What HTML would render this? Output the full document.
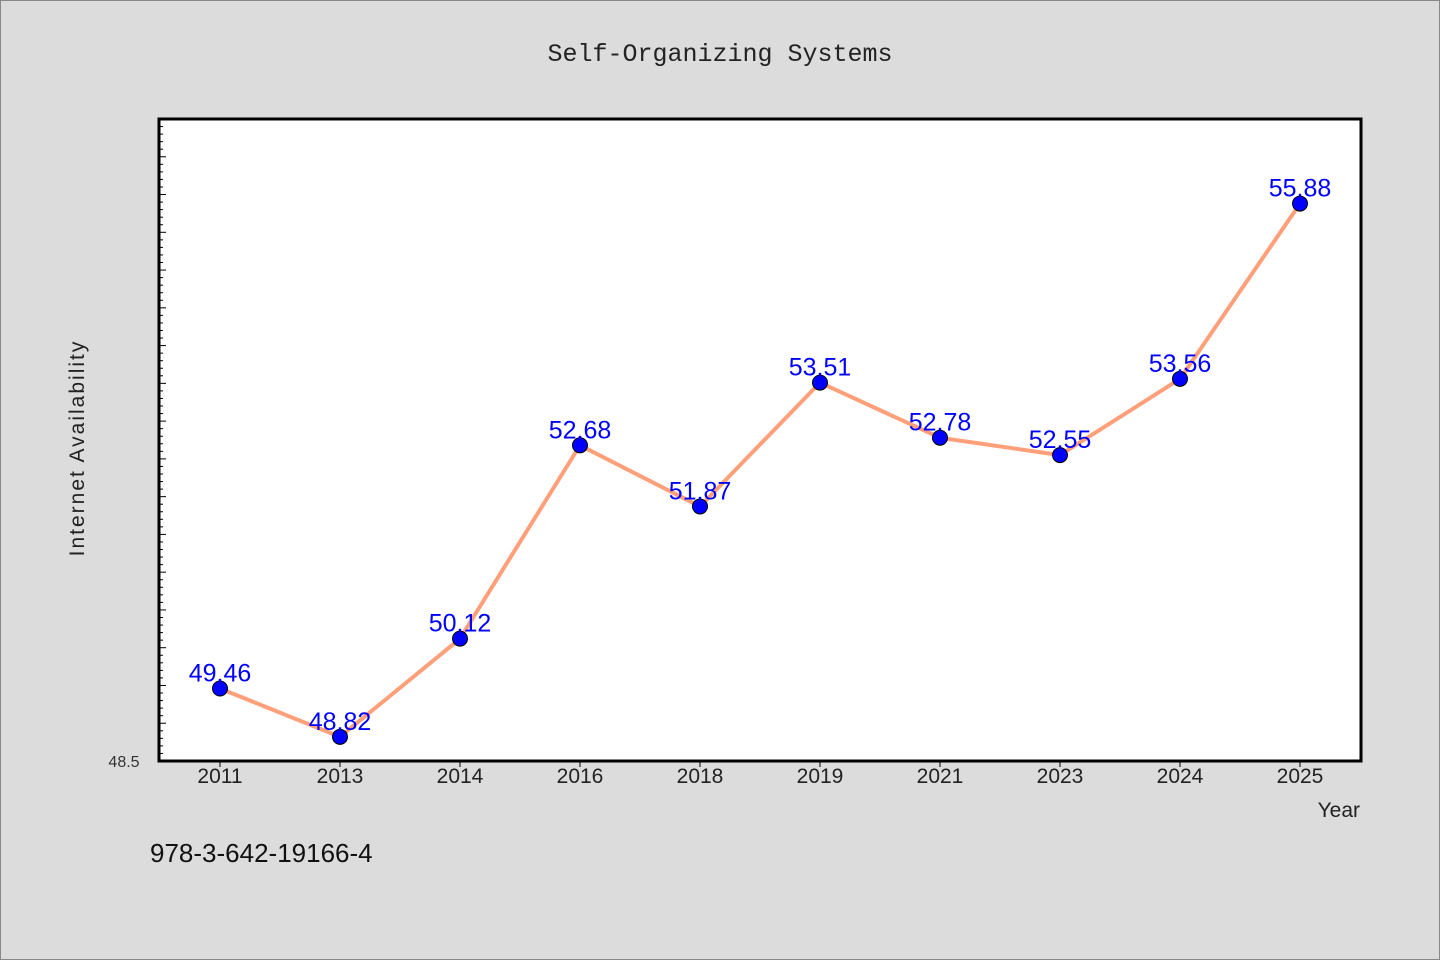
<!DOCTYPE html>
<html><head><meta charset="utf-8"><style>
body{margin:0;background:#dcdcdc;}
svg{display:block;font-family:"WenQuanYi Zen Hei","Liberation Sans",sans-serif;}
</style></head><body>
<svg id="chart" width="1440" height="960">
<rect x="0.5" y="0.5" width="1439" height="959" fill="#dcdcdc" stroke="#888"/>
<text x="720" y="61" text-anchor="middle" font-size="25" fill="#222" font-family="'Liberation Mono','WenQuanYi Zen Hei',monospace">Self-Organizing Systems</text>
<rect x="159" y="119" width="1202" height="642" fill="#fff"/>
<g id="ticks"></g>
<g id="series"></g>
<rect x="159" y="119" width="1202" height="642" fill="none" stroke="#000" stroke-width="3"/>
<text x="124" y="767" text-anchor="middle" font-size="16" fill="#333">48.5</text>
<text transform="translate(84,448) rotate(-90)" text-anchor="middle" font-size="21" fill="#222" letter-spacing="2">Internet Availability</text>
<text x="1360" y="817" text-anchor="end" font-size="21" fill="#222">Year</text>
<text x="150" y="862" font-size="26" fill="#111">978-3-642-19166-4</text>
</svg>
<script>
const categories=["2011","2013","2014","2016","2018","2019","2021","2023","2024","2025"];
const values=[49.46,48.82,50.12,52.68,51.87,53.51,52.78,52.55,53.56,55.88];
const yMin=48.5, yMax=57.0;
const NS="http://www.w3.org/2000/svg";
const x0=159,x1=1361,yTop=119,yBot=761;
function xs(i){return 220+i*120;}
function ys(v){return yBot-(v-yMin)/(yMax-yMin)*(yBot-yTop);}
function mk(t,a,p){const e=document.createElementNS(NS,t);for(const k in a)e.setAttribute(k,a[k]);p.appendChild(e);return e;}
const tg=document.getElementById('ticks'), sg=document.getElementById('series');
for(let k=1;k*0.1<=yMax-yMin+1e-9;k++){
  const v=yMin+k*0.1;const y=ys(v);if(y<yTop+2)break;
  const major=k%5===0;
  const l=mk('line',{x1:x0,x2:x0+(major?7:4),y1:y,y2:y,stroke:'#000','stroke-width':1},tg);
  
  
}
categories.forEach((c,i)=>{
  const l=mk('line',{x1:xs(i),x2:xs(i),y1:yBot,y2:yBot+6,stroke:'#000','stroke-width':1},tg);
  
  
  const t=mk('text',{x:xs(i),y:783,'text-anchor':'middle','font-size':21,fill:'#222'},tg);
  t.textContent=c;
  
  
});
const pl=mk('polyline',{points:values.map((v,i)=>xs(i)+','+ys(v)).join(' '),fill:'none',stroke:'#ffa07a','stroke-width':4,'stroke-linejoin':'round'},sg);


values.forEach((v,i)=>{
  const c=mk('circle',{cx:xs(i),cy:ys(v),r:7.5,fill:'#0000ff',stroke:'#000','stroke-width':1},sg);
  
  
  const t=mk('text',{x:xs(i),y:ys(v)-7,'text-anchor':'middle','font-size':25,fill:'#0000ff'},sg);
  t.textContent=v.toFixed(2);
  
  
});
</script>
</body></html>
